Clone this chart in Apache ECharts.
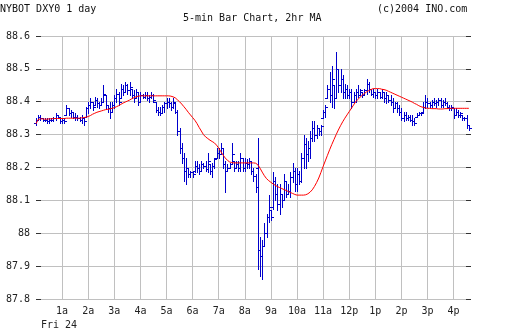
<!DOCTYPE html>
<html><head><meta charset="utf-8">
<script src="https://cdn.jsdelivr.net/npm/echarts@6/dist/echarts.min.js"></script>
<style>html,body{margin:0;padding:0;background:#fff}#c{width:512px;height:335px}</style>
</head><body><div id="c"></div>
<script>
// 5-minute bars, index 0 = 00:00
const highs = [88.35,88.36,88.36,88.35,88.35,88.35,88.35,88.35,88.355,88.367,88.36,88.355,
88.35,88.35,88.39,88.38,88.375,88.37,88.365,88.36,88.355,88.36,88.355,88.385,
88.40,88.41,88.40,88.415,88.41,88.40,88.41,88.45,88.42,88.39,88.40,88.40,
88.42,88.44,88.43,88.455,88.45,88.46,88.455,88.46,88.44,88.435,88.44,88.43,
88.43,88.425,88.43,88.43,88.42,88.43,88.425,88.40,88.385,88.385,88.39,88.40,
88.41,88.41,88.40,88.41,88.395,88.375,88.32,88.275,88.245,88.23,88.20,88.19,
88.19,88.22,88.22,88.21,88.22,88.215,88.22,88.245,88.21,88.215,88.23,88.26,
88.26,88.275,88.26,88.22,88.21,88.215,88.275,88.22,88.22,88.22,88.245,88.23,
88.23,88.225,88.23,88.22,88.20,88.18,88.29,87.99,87.98,88.03,88.06,88.115,
88.07,88.185,88.17,88.15,88.15,88.12,88.18,88.16,88.15,88.185,88.215,88.20,
88.20,88.19,88.245,88.30,88.29,88.28,88.31,88.34,88.34,88.33,88.32,88.33,
88.375,88.39,88.45,88.49,88.51,88.45,88.55,88.50,88.50,88.48,88.455,88.45,
88.44,88.44,88.43,88.44,88.45,88.44,88.43,88.44,88.47,88.46,88.44,88.44,
88.43,88.44,88.43,88.44,88.43,88.43,88.42,88.42,88.41,88.40,88.40,88.39,
88.38,88.37,88.37,88.36,88.36,88.36,88.35,88.365,88.37,88.37,88.40,88.42,
88.41,88.40,88.405,88.41,88.405,88.41,88.41,88.405,88.41,88.40,88.39,88.39,
88.38,88.38,88.375,88.37,88.36,88.355,88.36,88.33];
const lows = [88.33,88.345,88.345,88.34,88.34,88.335,88.335,88.34,88.34,88.345,88.35,88.335,
88.335,88.335,88.36,88.36,88.355,88.35,88.345,88.345,88.34,88.335,88.33,88.355,
88.365,88.38,88.375,88.39,88.385,88.38,88.39,88.40,88.38,88.37,88.35,88.37,
88.38,88.40,88.39,88.41,88.42,88.43,88.425,88.42,88.41,88.40,88.41,88.39,
88.40,88.41,88.41,88.405,88.40,88.41,88.40,88.37,88.36,88.36,88.365,88.37,
88.38,88.385,88.375,88.38,88.365,88.30,88.245,88.215,88.16,88.15,88.17,88.17,
88.17,88.185,88.185,88.18,88.19,88.20,88.19,88.185,88.18,88.17,88.20,88.23,
88.23,88.24,88.20,88.125,88.19,88.20,88.21,88.19,88.20,88.19,88.19,88.19,
88.19,88.20,88.20,88.18,88.16,88.125,87.89,87.87,87.86,87.96,87.99,88.035,
88.04,88.075,88.10,88.07,88.06,88.08,88.10,88.11,88.12,88.11,88.155,88.13,
88.13,88.15,88.155,88.20,88.20,88.22,88.23,88.28,88.28,88.29,88.30,88.30,
88.35,88.355,88.41,88.40,88.385,88.38,88.41,88.43,88.43,88.41,88.41,88.41,
88.41,88.38,88.40,88.40,88.415,88.42,88.415,88.42,88.425,88.43,88.42,88.415,
88.41,88.41,88.41,88.41,88.40,88.395,88.40,88.39,88.37,88.38,88.37,88.36,
88.345,88.34,88.345,88.345,88.34,88.33,88.33,88.355,88.36,88.36,88.37,88.38,
88.385,88.385,88.385,88.39,88.385,88.39,88.385,88.385,88.39,88.38,88.375,88.375,
88.35,88.36,88.355,88.355,88.345,88.345,88.32,88.315];
const opens = [88.335,88.345,88.355,88.35,88.345,88.345,88.34,88.345,88.345,88.35,88.36,88.355,
88.34,88.345,88.36,88.38,88.365,88.37,88.355,88.355,88.35,88.345,88.35,88.355,
88.38,88.39,88.40,88.39,88.405,88.395,88.39,88.40,88.42,88.39,88.38,88.37,
88.39,88.41,88.425,88.41,88.44,88.43,88.45,88.435,88.44,88.42,88.41,88.43,
88.40,88.42,88.415,88.42,88.41,88.415,88.42,88.40,88.375,88.37,88.365,88.385,
88.395,88.40,88.395,88.385,88.395,88.37,88.31,88.26,88.23,88.19,88.20,88.18,
88.185,88.19,88.205,88.20,88.19,88.21,88.205,88.195,88.21,88.19,88.205,88.23,
88.245,88.24,88.26,88.21,88.19,88.20,88.21,88.22,88.20,88.21,88.20,88.23,
88.20,88.215,88.21,88.22,88.19,88.175,88.20,87.95,87.93,87.96,88.00,88.05,
88.07,88.08,88.16,88.12,88.09,88.12,88.10,88.16,88.12,88.13,88.17,88.19,
88.15,88.18,88.16,88.23,88.27,88.24,88.26,88.29,88.32,88.30,88.32,88.31,
88.35,88.37,88.41,88.44,88.42,88.45,88.41,88.50,88.45,88.47,88.43,88.44,
88.42,88.43,88.40,88.42,88.43,88.42,88.43,88.42,88.435,88.455,88.44,88.425,
88.43,88.42,88.43,88.415,88.43,88.41,88.42,88.405,88.40,88.38,88.395,88.38,
88.37,88.35,88.36,88.35,88.355,88.345,88.34,88.355,88.36,88.365,88.37,88.385,
88.40,88.395,88.39,88.40,88.395,88.40,88.405,88.39,88.40,88.395,88.385,88.38,
88.38,88.36,88.37,88.36,88.36,88.35,88.35,88.33];
const closes = [88.345,88.355,88.35,88.345,88.345,88.34,88.345,88.345,88.35,88.36,88.355,88.34,
88.345,88.34,88.38,88.365,88.37,88.355,88.355,88.35,88.345,88.35,88.34,88.38,
88.39,88.40,88.385,88.405,88.395,88.39,88.40,88.425,88.39,88.38,88.37,88.39,
88.41,88.425,88.40,88.44,88.43,88.45,88.435,88.445,88.42,88.41,88.43,88.40,
88.42,88.415,88.42,88.41,88.415,88.42,88.405,88.375,88.37,88.365,88.385,88.395,
88.40,88.395,88.385,88.40,88.37,88.31,88.26,88.23,88.19,88.20,88.18,88.185,
88.18,88.205,88.20,88.19,88.21,88.205,88.195,88.22,88.19,88.205,88.225,88.245,
88.24,88.26,88.21,88.19,88.20,88.21,88.24,88.20,88.21,88.20,88.23,88.20,
88.215,88.21,88.22,88.19,88.175,88.14,87.95,87.93,87.96,88.00,88.05,88.08,
88.05,88.16,88.12,88.09,88.12,88.10,88.16,88.12,88.13,88.17,88.19,88.15,
88.18,88.16,88.23,88.27,88.24,88.26,88.29,88.32,88.30,88.32,88.31,88.325,
88.37,88.385,88.44,88.42,88.47,88.41,88.50,88.45,88.47,88.43,88.44,88.42,
88.43,88.40,88.42,88.43,88.42,88.435,88.42,88.435,88.455,88.44,88.425,88.43,
88.42,88.43,88.415,88.43,88.41,88.42,88.405,88.40,88.38,88.395,88.38,88.37,
88.35,88.36,88.35,88.355,88.345,88.34,88.335,88.36,88.365,88.365,88.385,88.40,
88.395,88.39,88.40,88.395,88.40,88.405,88.39,88.40,88.395,88.385,88.38,88.385,
88.36,88.37,88.36,88.365,88.35,88.35,88.33,88.32];
// 2hr moving average (red line)
const ma = [88.333,88.346,88.348,88.348,88.347,88.347,88.348,88.348,88.349,88.349,88.349,88.349,
88.349,88.349,88.350,88.350,88.350,88.350,88.350,88.350,88.350,88.351,88.352,88.353,
88.355,88.358,88.362,88.365,88.368,88.370,88.372,88.374,88.376,88.377,88.378,88.380,
88.382,88.385,88.388,88.392,88.396,88.399,88.402,88.405,88.409,88.412,88.415,88.417,
88.418,88.418,88.418,88.418,88.418,88.418,88.418,88.418,88.418,88.418,88.418,88.418,
88.418,88.418,88.417,88.415,88.412,88.406,88.400,88.393,88.385,88.377,88.368,88.360,
88.352,88.344,88.334,88.322,88.311,88.300,88.293,88.288,88.283,88.279,88.275,88.268,
88.259,88.248,88.238,88.229,88.222,88.217,88.215,88.214,88.214,88.214,88.214,88.214,
88.214,88.214,88.214,88.214,88.214,88.213,88.208,88.198,88.186,88.175,88.166,88.160,
88.155,88.150,88.146,88.142,88.139,88.136,88.133,88.130,88.127,88.124,88.121,88.118,
88.116,88.116,88.116,88.116,88.117,88.120,88.125,88.132,88.142,88.154,88.168,88.185,
88.203,88.220,88.237,88.254,88.270,88.285,88.300,88.314,88.327,88.339,88.350,88.360,
88.370,88.380,88.390,88.400,88.407,88.414,88.420,88.425,88.430,88.434,88.437,88.440,
88.440,88.440,88.440,88.438,88.437,88.435,88.432,88.429,88.426,88.423,88.420,88.417,
88.414,88.411,88.408,88.405,88.402,88.399,88.395,88.392,88.388,88.385,88.383,88.381,
88.380,88.380,88.379,88.379,88.379,88.378,88.378,88.378,88.379,88.379,88.380,88.380,
88.380,88.380,88.380,88.380,88.380,88.380,88.380,88.380];
const hourLabels = ['', '1a','2a','3a','4a','5a','6a','7a','8a','9a','10a','11a','12p','1p','2p','3p','4p'];
const dayLabel = 'Fri 24';
const titleLeft = 'NYBOT DXY0 1 day';
const titleCenter = '5-min Bar Chart, 2hr MA';
const titleRight = '(c)2004 INO.com';

const FONT = '"DejaVu Sans Mono", monospace';
const BLUE = '#0000cc';
const bars = closes.map((c, i) => [i, opens[i], highs[i], lows[i], c]);
const maData = ma.map((v, i) => [i, v]);

const chart = echarts.init(document.getElementById('c'), null, {renderer: 'canvas'});
chart.setOption({
  animation: false,
  backgroundColor: '#ffffff',
  grid: {left: 36, right: 41, top: 36, bottom: 36},
  xAxis: {
    type: 'value', min: 0, max: 200, interval: 12,
    axisLine: {show: false}, axisTick: {show: false},
    axisLabel: {
      margin: 7, color: '#222', fontFamily: FONT, fontSize: 10, showMaxLabel: false,
      formatter: v => hourLabels[v / 12] || ''
    },
    splitLine: {show: true, showMinLine: false, showMaxLine: false, lineStyle: {color: '#c0c0c0', width: 1}}
  },
  yAxis: [{
    type: 'value', min: 87.8, max: 88.6, interval: 0.1, position: 'left',
    axisLine: {show: false},
    axisTick: {show: true, inside: true, length: 5, lineStyle: {color: '#333'}},
    axisLabel: {margin: 6, color: '#222', fontFamily: FONT, fontSize: 10,
      formatter: v => String(Math.round(v * 10) / 10)},
    splitLine: {show: true, lineStyle: {color: '#c0c0c0', width: 1}}
  }, {
    type: 'value', min: 87.8, max: 88.6, interval: 0.1, position: 'right',
    axisLine: {show: false},
    axisTick: {show: true, inside: true, length: 5, lineStyle: {color: '#333'}},
    axisLabel: {show: false}, splitLine: {show: false}
  }],
  graphic: [
    {type: 'text', left: 0, top: 4, style: {text: titleLeft, font: '10px ' + FONT, fill: '#111'}},
    {type: 'text', left: 183, top: 13, style: {text: titleCenter, font: '10px ' + FONT, fill: '#111'}},
    {type: 'text', left: 377, top: 4, style: {text: titleRight, font: '10px ' + FONT, fill: '#111'}},
    {type: 'text', left: 41, top: 320, style: {text: dayLabel, font: '10px ' + FONT, fill: '#222'}}
  ],
  series: [{
    type: 'custom',
    data: bars,
    encode: {x: 0, y: [1, 2, 3, 4]},
    renderItem: (params, api) => {
      const x = api.value(0);
      const pH = api.coord([x, api.value(2)]);
      const pL = api.coord([x, api.value(3)]);
      const pO = api.coord([x, api.value(1)]);
      const pC = api.coord([x, api.value(4)]);
      const cx = Math.round(pH[0]) + 0.5;
      const yo = Math.round(pO[1]) + 0.5, yc = Math.round(pC[1]) + 0.5;
      const st = {stroke: BLUE, lineWidth: 1};
      return {type: 'group', children: [
        {type: 'line', shape: {x1: cx, y1: Math.round(pH[1]), x2: cx, y2: Math.round(pL[1]) + 1}, style: st},
        {type: 'line', shape: {x1: cx - 2.5, y1: yo, x2: cx, y2: yo}, style: st},
        {type: 'line', shape: {x1: cx, y1: yc, x2: cx + 2.5, y2: yc}, style: st}
      ]};
    }
  }, {
    type: 'line', data: maData, showSymbol: false, z: 5,
    lineStyle: {color: '#ff0000', width: 1}
  }]
});
</script></body></html>
